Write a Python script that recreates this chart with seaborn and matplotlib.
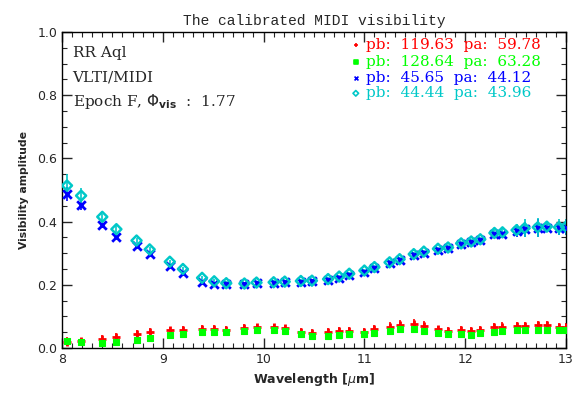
import numpy as np
import pandas as pd
import matplotlib
matplotlib.use("Agg")
import matplotlib.pyplot as plt
import seaborn as sns
from matplotlib.ticker import MultipleLocator, FormatStrFormatter

sns.set_style("ticks")
plt.rcParams['font.family'] = ['DejaVu Sans']

# Wavelength channels [micron]
wavelength = [8.05, 8.19, 8.40, 8.54, 8.74, 8.87, 9.07, 9.20, 9.39, 9.51,
              9.63, 9.81, 9.93, 10.10, 10.21, 10.37, 10.48, 10.64, 10.75, 10.85,
              11.00, 11.10, 11.25, 11.35, 11.49, 11.59, 11.73, 11.83, 11.96, 12.06,
              12.15, 12.29, 12.37, 12.51, 12.59, 12.72, 12.81, 12.93, 13.00]

# Visibilities per baseline
vis_red = [0.020, 0.022, 0.030, 0.034, 0.045, 0.051, 0.056, 0.058, 0.060, 0.060,
           0.058, 0.063, 0.065, 0.065, 0.062, 0.052, 0.048, 0.050, 0.054, 0.054,
           0.052, 0.060, 0.067, 0.073, 0.076, 0.070, 0.059, 0.054, 0.057, 0.053,
           0.057, 0.066, 0.067, 0.070, 0.070, 0.072, 0.072, 0.067, 0.067]
vis_green = [0.023, 0.020, 0.017, 0.018, 0.025, 0.032, 0.041, 0.045, 0.050, 0.050,
             0.050, 0.054, 0.056, 0.056, 0.053, 0.045, 0.038, 0.038, 0.041, 0.043,
             0.043, 0.048, 0.055, 0.059, 0.061, 0.055, 0.048, 0.043, 0.044, 0.042,
             0.046, 0.052, 0.054, 0.056, 0.056, 0.058, 0.058, 0.057, 0.058]
vis_blue = [0.486, 0.453, 0.389, 0.352, 0.322, 0.297, 0.260, 0.237, 0.210, 0.203,
            0.202, 0.203, 0.205, 0.206, 0.208, 0.210, 0.211, 0.215, 0.223, 0.232,
            0.242, 0.253, 0.268, 0.278, 0.294, 0.302, 0.311, 0.315, 0.328, 0.334,
            0.341, 0.360, 0.362, 0.370, 0.376, 0.379, 0.381, 0.379, 0.381]
vis_cyan = [0.514, 0.482, 0.415, 0.376, 0.340, 0.312, 0.273, 0.250, 0.222, 0.211,
            0.205, 0.204, 0.207, 0.208, 0.210, 0.212, 0.213, 0.218, 0.226, 0.235,
            0.245, 0.256, 0.271, 0.281, 0.297, 0.305, 0.314, 0.318, 0.331, 0.337,
            0.344, 0.364, 0.366, 0.373, 0.379, 0.382, 0.384, 0.382, 0.384]

# Errors
err_red = [0.014, 0.010, 0.012, 0.012, 0.012, 0.012, 0.012, 0.012, 0.012, 0.012,
           0.012, 0.012, 0.012, 0.012, 0.012, 0.012, 0.012, 0.012, 0.012, 0.012,
           0.012, 0.012, 0.014, 0.016, 0.016, 0.014, 0.012, 0.012, 0.012, 0.012,
           0.012, 0.014, 0.014, 0.012, 0.012, 0.012, 0.012, 0.012, 0.012]
err_green = [0.007] * 39
err_blue = [0.022, 0.016, 0.008, 0.008, 0.006, 0.006, 0.006, 0.006, 0.006, 0.006,
            0.006, 0.006, 0.006, 0.006, 0.006, 0.006, 0.006, 0.006, 0.006, 0.006,
            0.006, 0.006, 0.006, 0.006, 0.006, 0.006, 0.006, 0.006, 0.006, 0.006,
            0.006, 0.008, 0.008, 0.018, 0.024, 0.028, 0.010, 0.022, 0.022]
err_cyan = [0.036, 0.024, 0.010, 0.010, 0.008, 0.008, 0.006, 0.006, 0.006, 0.006,
            0.006, 0.006, 0.006, 0.006, 0.006, 0.006, 0.006, 0.006, 0.006, 0.006,
            0.006, 0.006, 0.006, 0.006, 0.006, 0.006, 0.006, 0.008, 0.008, 0.008,
            0.008, 0.010, 0.010, 0.020, 0.028, 0.030, 0.012, 0.025, 0.025]

labels = ["pb:  119.63  pa:  59.78", "pb:  128.64  pa:  63.28",
          "pb:  45.65  pa:  44.12", "pb:  44.44  pa:  43.96"]
colors = ["#ff0000", "#00ff00", "#0000ff", "#00c8c8"]
markers = ["+", "s", "x", "D"]
values = [vis_red, vis_green, vis_blue, vis_cyan]
errors = [err_red, err_green, err_blue, err_cyan]

fig = plt.figure(figsize=(5.79, 3.95), dpi=100)
ax = fig.add_axes([0.107, 0.119, 0.8705, 0.80])

for lab, col, mk, v, e in zip(labels, colors, markers, values, errors):
    df = pd.DataFrame({"wl": wavelength, "vis": v})
    ax.errorbar(df["wl"], df["vis"], yerr=e, fmt="none", ecolor=col, elinewidth=1.2, zorder=2)
    if mk == "D":
        sns.scatterplot(data=df, x="wl", y="vis", marker=mk, s=26, facecolors="none",
                        edgecolor=col, linewidth=1.8, ax=ax, zorder=3)
    elif mk in ("+", "x"):
        sns.scatterplot(data=df, x="wl", y="vis", marker=mk, s=38, color=col,
                        linewidth=2.0, ax=ax, zorder=3)
    else:
        sns.scatterplot(data=df, x="wl", y="vis", marker=mk, s=24, color=col,
                        edgecolor=col, linewidth=0.8, ax=ax, zorder=3)

ax.set_xlim(8, 13)
ax.set_ylim(0, 1.0)
ax.xaxis.set_major_locator(MultipleLocator(1))
ax.xaxis.set_minor_locator(MultipleLocator(0.1))
ax.yaxis.set_major_locator(MultipleLocator(0.2))
ax.yaxis.set_minor_locator(MultipleLocator(0.05))
ax.yaxis.set_major_formatter(FormatStrFormatter("%.1f"))
ax.tick_params(which="both", direction="in", top=True, right=True, labelsize=9)
ax.tick_params(which="major", length=7, width=1)
ax.tick_params(which="minor", length=3.5, width=0.8)
for sp in ax.spines.values():
    sp.set_linewidth(1)
    sp.set_color("black")

ax.set_xlabel("Wavelength [$\\mu$m]", fontsize=9, fontweight="bold")
ax.set_ylabel("Visibility amplitude", fontsize=7.8, fontweight="bold", labelpad=6)
ax.set_title("The calibrated MIDI visibility", fontsize=10.5,
             family=["Liberation Mono", "DejaVu Sans Mono"], pad=5)

serif = ["DejaVu Serif"]
ax.text(0.021, 0.934, "RR Aql", transform=ax.transAxes, fontsize=11, family=serif, va="center")
ax.text(0.021, 0.855, "VLTI/MIDI", transform=ax.transAxes, fontsize=11, family=serif, va="center")
ax.text(0.021, 0.779, "Epoch F, $\\Phi_{\\mathbf{vis}}$  :  1.77", transform=ax.transAxes,
        fontsize=11, family=serif, va="center")

leg_y = [0.959, 0.906, 0.854, 0.806]
for lab, col, mk, yy in zip(labels, colors, markers, leg_y):
    ax.scatter([0.583], [yy], transform=ax.transAxes, marker=mk, s=8,
               color=col if mk != "D" else "none", edgecolors=col, linewidths=1.2)
    ax.text(0.6026, yy, lab, transform=ax.transAxes, color=col, fontsize=11,
            family=serif, va="center")

fig.savefig("out.png", dpi=100)
